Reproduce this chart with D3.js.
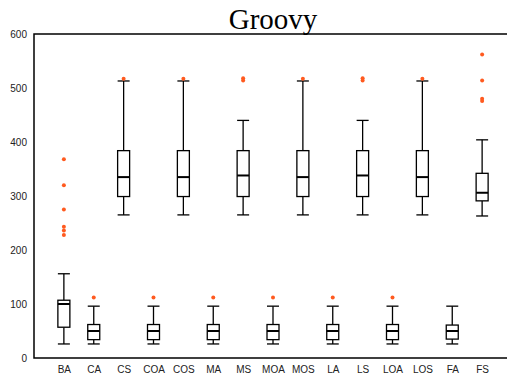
<!DOCTYPE html>
<html>
<head>
<meta charset="utf-8">
<script src="https://cdn.jsdelivr.net/npm/d3@7"></script>
<style>
  body { margin: 0; background: #fff; }
  .tick text { font-family: "Liberation Sans", Arial, sans-serif; font-size: 10px; fill: #222; }
</style>
</head>
<body>
<svg id="chart" width="507" height="379"></svg>
<script>
"use strict";

var categories = ["BA","CA","CS","COA","COS","MA","MS","MOA","MOS","LA","LS","LOA","LOS","FA","FS"];
var whiskerLow  = [26, 26, 265, 26, 265, 26, 265, 26, 265, 26, 265, 26, 265, 26, 263];
var q1          = [57, 34, 299, 34, 299, 34, 299, 34, 299, 34, 299, 34, 299, 35, 291];
var medians     = [100, 50, 335, 50, 335, 50, 338, 50, 335, 50, 338, 50, 335, 50, 306];
var q3          = [107, 62, 384, 62, 384, 62, 384, 62, 384, 62, 384, 62, 384, 61, 342];
var whiskerHigh = [156, 96, 513, 96, 513, 96, 440, 96, 513, 96, 440, 96, 513, 96, 404];
var outliers    = [
  [368, 320, 275, 243, 236, 228],
  [112],
  [517],
  [112],
  [517],
  [112],
  [514, 518],
  [112],
  [517],
  [112],
  [514, 518],
  [112],
  [517],
  [],
  [562, 514, 480, 476]
];
var yTicks = [0, 100, 200, 300, 400, 500, 600];

var svg = d3.select("#chart"),
  margin = {top: 34, left: 34},
  plotRight = 512,
  plotBottom = 358,
  boxW = 12
;

var x = d3.scalePoint().domain(categories).range([margin.left, plotRight]).padding(1),
  y = d3.scaleLinear().domain([0, 600]).range([plotBottom, margin.top])
;

var data = categories.map(function(c, i) {
  return {name: c, lo: whiskerLow[i], q1: q1[i], med: medians[i], q3: q3[i], hi: whiskerHigh[i], out: outliers[i]};
});

// frame: left, top, bottom (right edge falls outside the window)
svg.append("path")
  .attr("d", "M" + plotRight + "," + margin.top + "H" + margin.left + "V" + plotBottom + "H" + plotRight)
  .attr("fill", "none").attr("stroke", "#000").attr("stroke-width", 1.5);

// axes
svg.append("g")
  .attr("transform", "translate(" + margin.left + ",0)")
  .call(d3.axisLeft(y).tickValues(yTicks).tickSize(0).tickPadding(7))
  .select(".domain").remove();

svg.append("g")
  .attr("transform", "translate(0," + plotBottom + ")")
  .call(d3.axisBottom(x).tickSize(0).tickPadding(8))
  .select(".domain").remove();

var g = svg.append("g").attr("stroke", "#000").attr("fill", "none").attr("stroke-width", 1.3);

var box = g.selectAll(".box")
  .data(data)
  .enter().append("g")
    .attr("class", "box")
    .attr("transform", function(d) { return "translate(" + x(d.name) + ",0)"; });

// whiskers
box.append("line").attr("x1", 0).attr("x2", 0)
  .attr("y1", function(d) { return y(d.q3); }).attr("y2", function(d) { return y(d.hi); });
box.append("line").attr("x1", 0).attr("x2", 0)
  .attr("y1", function(d) { return y(d.q1); }).attr("y2", function(d) { return y(d.lo); });
box.append("line").attr("x1", -boxW / 2).attr("x2", boxW / 2)
  .attr("y1", function(d) { return y(d.hi); }).attr("y2", function(d) { return y(d.hi); });
box.append("line").attr("x1", -boxW / 2).attr("x2", boxW / 2)
  .attr("y1", function(d) { return y(d.lo); }).attr("y2", function(d) { return y(d.lo); });

box.append("rect")
  .attr("x", -boxW / 2).attr("width", boxW)
  .attr("y", function(d) { return y(d.q3); })
  .attr("height", function(d) { return y(d.q1) - y(d.q3); })
  .attr("fill", "#fff");

box.append("line").attr("x1", -boxW / 2).attr("x2", boxW / 2)
  .attr("stroke-width", 2)
  .attr("y1", function(d) { return y(d.med); }).attr("y2", function(d) { return y(d.med); });

box.selectAll(".outlier")
  .data(function(d) { return d.out; })
  .enter().append("circle")
    .attr("class", "outlier")
    .attr("cx", 0)
    .attr("cy", function(v) { return y(v); })
    .attr("r", 2)
    .attr("stroke", "none")
    .attr("fill", "#ff5a1f");

svg.append("text")
  .attr("x", (margin.left + plotRight) / 2)
  .attr("y", 29)
  .attr("text-anchor", "middle")
  .attr("font-family", "Liberation Serif, Times New Roman, serif")
  .attr("font-size", 29)
  .text("Groovy");
</script>
</body>
</html>
